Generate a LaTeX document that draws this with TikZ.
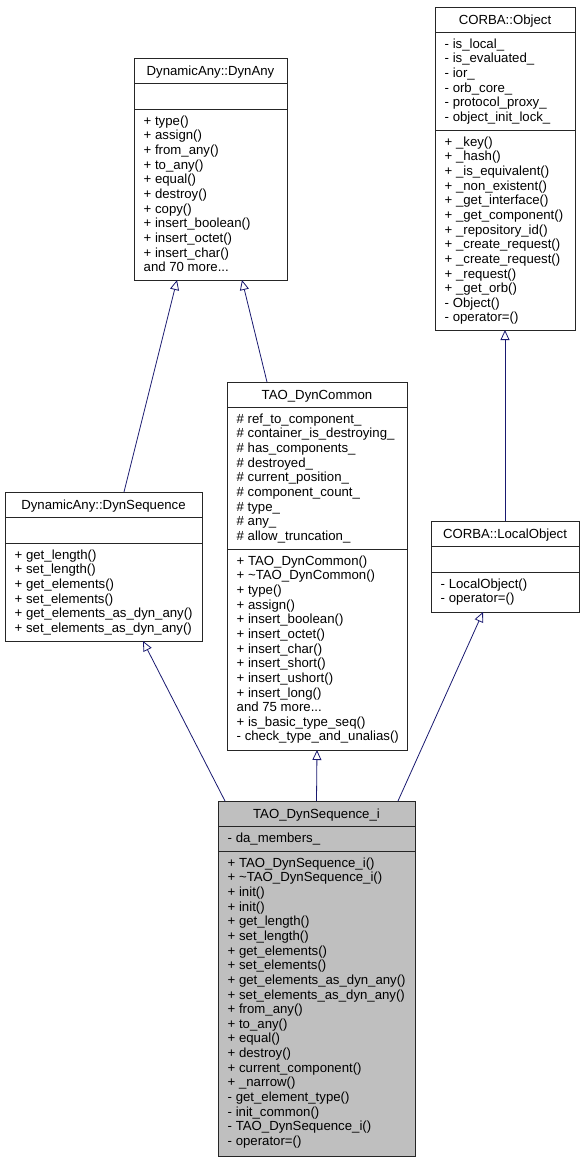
\documentclass[tikz,border=0pt]{standalone}
\usepackage{fontspec}
\setmainfont{Liberation Sans}
\usetikzlibrary{arrows.meta}
\definecolor{edgeblue}{HTML}{191970}
\definecolor{implgray}{HTML}{BFBFBF}

\begin{document}
\begin{tikzpicture}[x=1pt,y=-1pt,
  every node/.style={font=\fontsize{13.2}{14.65}\selectfont},
  cls/.style={draw=black!85, line width=0.9pt, fill=white, inner sep=0pt, outer sep=0pt, anchor=north west},
  title/.style={anchor=base, inner sep=0pt},
  members/.style={anchor=north west, align=left, inner sep=0pt},
  inherit/.style={draw=edgeblue, line width=0.8pt, -{Triangle[open,length=10pt,width=9pt]}}]

\useasboundingbox (0,0) rectangle (584,1163);

% class boxes
\foreach \name/\bx/\by/\bw/\bh in {dynany/134/58/153/222, corbaobj/435/7/140/323, dynseq/5/492/197/149, dyncommon/227/382/180/368, localobj/431/521/148/91}
\node[cls, minimum width=\bw, minimum height=\bh] (\name) at (\bx,\by) {};
\node[cls, fill=implgray, minimum width=197, minimum height=355] (seqi) at (218,801) {};

% compartment lines
\foreach \xa/\xb/\ya in {134/287/83, 134/287/109, 435/575/32, 435/575/130, 5/202/517, 5/202/543, 227/407/407, 227/407/549, 431/579/546, 431/579/572, 218/415/826, 218/415/851}
\draw[draw=black!85, line width=0.9pt] (\xa,\ya) -- (\xb,\ya);

% DynamicAny::DynAny
\node[title] (dynany-t) at (210.5,75) {DynamicAny::DynAny};
\node[members] (dynany-op) at (143.5,114.7) {\strut+ type()\\+ assign()\\+ from\_any()\\+ to\_any()\\+ equal()\\+ destroy()\\+ copy()\\+ insert\_boolean()\\+ insert\_octet()\\+ insert\_char()\\and 70 more...};

% CORBA::Object
\node[title] (corbaobj-t) at (505,24) {CORBA::Object};
\node[members] (corbaobj-at) at (444.5,37.7) {\strut- is\_local\_\\- is\_evaluated\_\\- ior\_\\- orb\_core\_\\- protocol\_proxy\_\\- object\_init\_lock\_};
\node[members] (corbaobj-op) at (444.5,135.7) {\strut+ \_key()\\+ \_hash()\\+ \_is\_equivalent()\\+ \_non\_existent()\\+ \_get\_interface()\\+ \_get\_component()\\+ \_repository\_id()\\+ \_create\_request()\\+ \_create\_request()\\+ \_request()\\+ \_get\_orb()\\- Object()\\- operator=()};

% DynamicAny::DynSequence
\node[title] (dynseq-t) at (103.5,509) {DynamicAny::DynSequence};
\node[members] (dynseq-op) at (14.5,548.7) {\strut+ get\_length()\\+ set\_length()\\+ get\_elements()\\+ set\_elements()\\+ get\_elements\_as\_dyn\_any()\\+ set\_elements\_as\_dyn\_any()};

% TAO_DynCommon
\node[title] (dyncommon-t) at (317,399) {TAO\_DynCommon};
\node[members] (dyncommon-at) at (236.5,412.7) {\strut\# ref\_to\_component\_\\\# container\_is\_destroying\_\\\# has\_components\_\\\# destroyed\_\\\# current\_position\_\\\# component\_count\_\\\# type\_\\\# any\_\\\# allow\_truncation\_};
\node[members] (dyncommon-op) at (236.5,554.7) {\strut+ TAO\_DynCommon()\\+ \textasciitilde TAO\_DynCommon()\\+ type()\\+ assign()\\+ insert\_boolean()\\+ insert\_octet()\\+ insert\_char()\\+ insert\_short()\\+ insert\_ushort()\\+ insert\_long()\\and 75 more...\\+ is\_basic\_type\_seq()\\- check\_type\_and\_unalias()};

% CORBA::LocalObject
\node[title] (localobj-t) at (505,538) {CORBA::LocalObject};
\node[members] (localobj-op) at (440.5,577.7) {\strut- LocalObject()\\- operator=()};

% TAO_DynSequence_i
\node[title] (seqi-t) at (316.5,818) {TAO\_DynSequence\_i};
\node[members] (seqi-at) at (227.5,831.7) {\strut- da\_members\_};
\node[members] (seqi-op) at (227.5,856.7) {\strut+ TAO\_DynSequence\_i()\\+ \textasciitilde TAO\_DynSequence\_i()\\+ init()\\+ init()\\+ get\_length()\\+ set\_length()\\+ get\_elements()\\+ set\_elements()\\+ get\_elements\_as\_dyn\_any()\\+ set\_elements\_as\_dyn\_any()\\+ from\_any()\\+ to\_any()\\+ equal()\\+ destroy()\\+ current\_component()\\+ \_narrow()\\- get\_element\_type()\\- init\_common()\\- TAO\_DynSequence\_i()\\- operator=()};

% inheritance
\draw[inherit] ([xshift=20.5pt]dynseq.north) -- ([xshift=-33.5pt]dynany.south);
\draw[inherit] ([xshift=-50pt]dyncommon.north) -- ([xshift=31.5pt]dynany.south);
\draw[inherit] (localobj.north) -- (corbaobj.south);
\draw[inherit] ([xshift=-91.5pt]seqi.north) -- ([xshift=39.5pt]dynseq.south);
\draw[inherit] (seqi.north) -- (dyncommon.south);
\draw[inherit] ([xshift=81.5pt]seqi.north) -- ([xshift=-22pt]localobj.south);
\end{tikzpicture}
\end{document}
